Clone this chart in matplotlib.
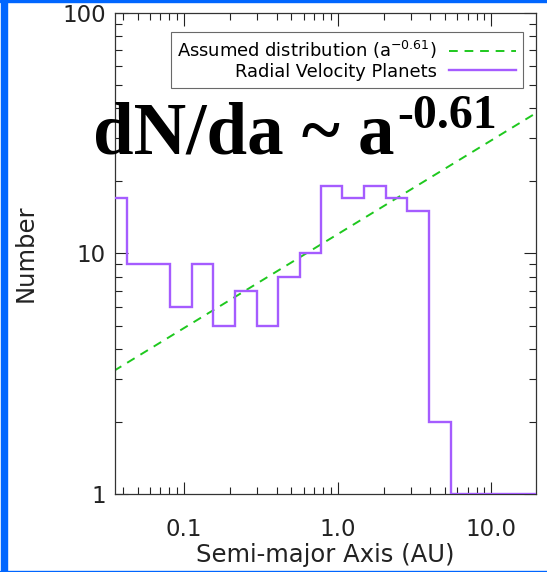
import numpy as np
import matplotlib.pyplot as plt
from matplotlib.patches import Rectangle

# histogram of radial velocity planets (log-spaced bins, AU)
bin_edges = [0.030, 0.0428, 0.0590, 0.0815, 0.1125, 0.1552, 0.2148, 0.2965,
             0.410, 0.566, 0.780, 1.074, 1.486, 2.051, 2.838, 3.926, 5.42, 25.0]
counts = [17, 9, 9, 6, 9, 5, 7, 5, 8, 10, 19, 17, 19, 17, 15, 2, 1]

# assumed power law dN/da ~ a^-0.61  -> per log bin ~ a^(1-0.61)
pl_index = -0.61
pl_norm = 12.0
a_range = [0.035, 20.0]

purple = '#A55CFF'
green = '#1EC81E'
blue = '#0066FF'
ink = '#222222'

fig = plt.figure(figsize=(5.47, 5.72), dpi=100)
ax = fig.add_axes([115 / 547, 1 - 494 / 572, 421 / 547, 481.5 / 572])

a = np.array(a_range)
l_pl, = ax.plot(a, pl_norm * a ** (1 + pl_index), color=green, lw=1.4,
                dashes=(4.5, 3.5), zorder=2)
st = ax.stairs(counts, bin_edges, baseline=None, color=purple, lw=1.7, zorder=3)

ax.set_xscale('log')
ax.set_yscale('log')
ax.set_xlim(0.0356, 19.5)
ax.set_ylim(1, 100)

ax.set_xticks([0.1, 1.0, 10.0])
ax.set_xticklabels(['0.1', '1.0', '10.0'])
ax.set_yticks([1, 10, 100])
ax.set_yticklabels(['1', '10', '100'])

ax.tick_params(which='both', direction='in', top=True, right=True,
               colors=ink, labelsize=16.5)
ax.tick_params(which='major', length=9, width=0.8)
ax.tick_params(which='minor', length=5, width=0.8)
ax.tick_params(axis='x', pad=17)
ax.tick_params(axis='y', pad=6.5)
for s in ax.spines.values():
    s.set_color('#333333')
    s.set_linewidth(0.9)

ax.set_xlabel('Semi-major Axis (AU)', fontsize=17.5, color=ink, labelpad=2)
ax.set_ylabel('Number', fontsize=17.5, color=ink, labelpad=17.5)

leg = ax.legend([l_pl, st], ['Assumed distribution (a$^{-0.61}$)', 'Radial Velocity Planets'],
                loc='upper right', bbox_to_anchor=(0.968, 0.9595), markerfirst=False,
                fontsize=12.9, frameon=True, fancybox=False, handlelength=3.7,
                borderpad=0.38, labelspacing=0.1, handletextpad=0.7,
                borderaxespad=0)
leg.get_frame().set_edgecolor('#444444')
leg.get_frame().set_linewidth(0.8)

t = fig.text(93 / 547, 1 - 153 / 572, 'dN/da ~ a', fontsize=52.5, fontweight='bold',
             family='Liberation Serif', color='black', ha='left', va='baseline')
ax.annotate('-0.61', xy=(1, 1), xycoords=t, xytext=(2, 5), textcoords='offset points',
            fontsize=34.5, fontweight='bold', family='Liberation Serif',
            color='black', ha='left', va='top', annotation_clip=False)

# blue slide frame
fig.patches.append(Rectangle((1 / 547, 0), 6 / 547, 1, transform=fig.transFigure,
                             color=blue, zorder=10))
fig.patches.append(Rectangle((0, 1 - 2 / 572), 1, 2 / 572, transform=fig.transFigure,
                             color=blue, zorder=10))
fig.patches.append(Rectangle((0, 0), 1, 1.5 / 572, transform=fig.transFigure,
                             color=blue, zorder=10))

fig.savefig('out.png', dpi=100)
